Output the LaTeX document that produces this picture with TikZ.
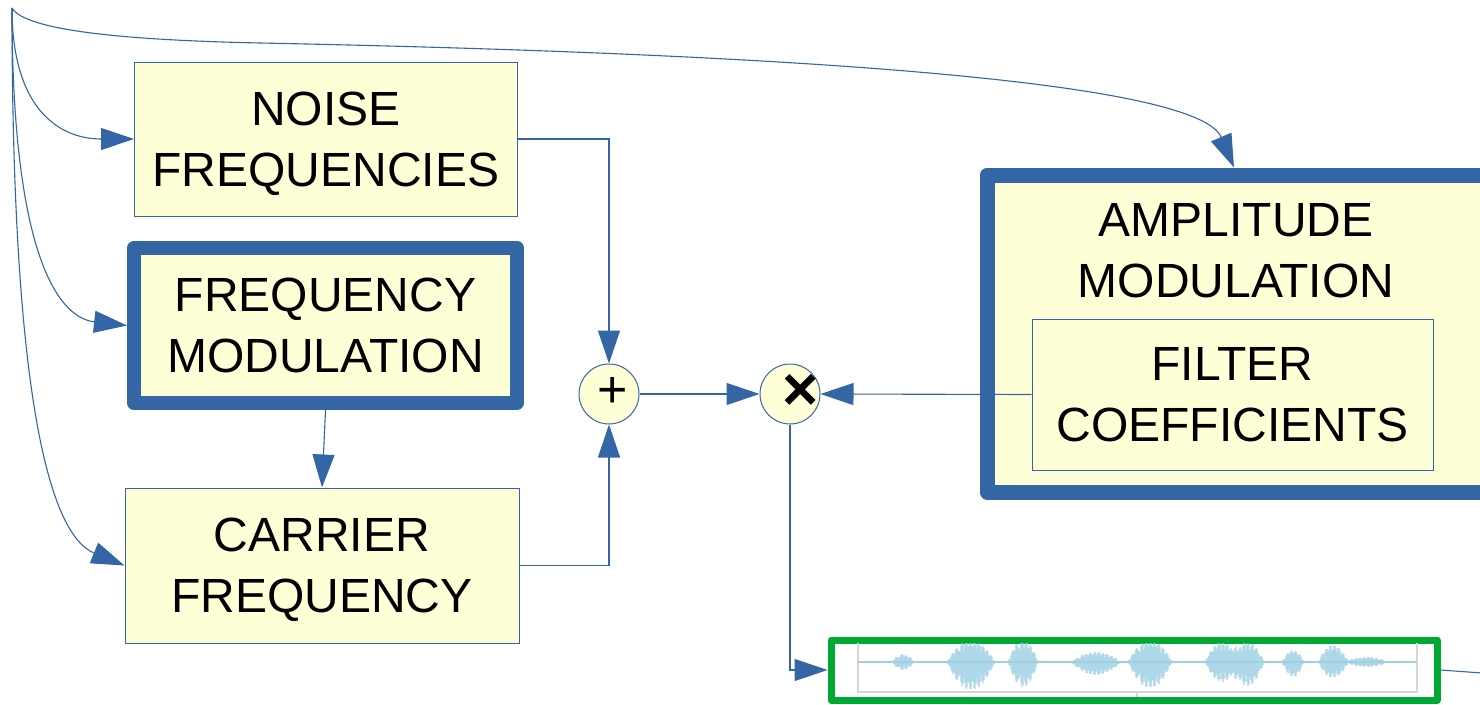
\documentclass[tikz,border=0pt]{standalone}
\usepackage{fontspec}
\setmainfont{Liberation Sans}
\usetikzlibrary{arrows.meta}
\definecolor{lineblue}{HTML}{3465A4}
\definecolor{boxfill}{HTML}{FFFFD7}
\definecolor{framegreen}{HTML}{00A933}
\definecolor{wavecol}{HTML}{9ECFE2}
\newcommand{\bigfont}{\fontsize{48}{61}\selectfont}
\begin{document}
\begin{tikzpicture}[x=1pt,y=-1pt,
  block/.style={draw=lineblue, fill=boxfill, line width=1pt, font=\bigfont,
    align=center, inner sep=0pt, text depth=0pt},
  heavy/.style={block, line width=14pt, line join=round},
  sumnode/.style={circle, draw=lineblue, fill=boxfill, line width=1pt,
    minimum size=60pt, inner sep=0pt},
  wire/.style={draw=lineblue, line width=1.1pt},
  flow/.style={wire, -{Triangle[length=33pt,width=22pt]}},
  declare function={bump(\p,\c,\w)=max(0,1-((\p-\c)/\w)^2);}]
\useasboundingbox (0,0) rectangle (1480,704);
\clip (0,0) rectangle (1480,704);

% blocks
\node[block, minimum width=383pt, minimum height=154pt] (noise) at (326,139)
  {NOISE\\FREQUENCIES};
\node[heavy, minimum width=383pt, minimum height=155pt] (fm) at (325.5,325.5)
  {FREQUENCY\\MODULATION};
\node[block, minimum width=394pt, minimum height=155pt] (carrier) at (322,565.5)
  {CARRIER\\FREQUENCY};
\node[heavy, line width=15pt, minimum width=500pt, minimum height=317pt] (amp)
  at (1237,333.5) {};
\node[font=\bigfont, align=center, inner sep=0pt, text depth=0pt] (amptext)
  at (1236,250) {AMPLITUDE\\MODULATION};
\node[block, minimum width=401pt, minimum height=151pt] (filter) at (1232.5,394.5)
  {FILTER\\COEFFICIENTS};

% combiners
\node[sumnode] (plus) at (609,394) {};
\node[font=\fontsize{52}{52}\selectfont, inner sep=0pt] (plussign) at (613,392) {+};
\node[sumnode] (times) at (790,394) {};
\node[font=\fontsize{62}{62}\selectfont\bfseries, inner sep=0pt] (timessign) at (801,392) {×};

% output waveform
\node[draw=framegreen, line width=7pt, line join=round, minimum width=606pt,
  minimum height=60pt, inner sep=0pt] (wavebox) at (1134,670) {};
\begin{scope}
  \clip (834.5,643.5) rectangle (1433.5,696.5);
  \draw[black!16, line width=1.5pt] (858,640) -- (858,692) -- (1417,692) -- (1417,640);
  \draw[black!16, line width=1.5pt] (1137,692) -- (1137,700);
  \draw[wavecol, line width=1.5pt] (858,662) -- (1417,662);
  \foreach \t in {859,...,1416}{
    \pgfmathsetmacro\j{0.55+0.45*abs(sin(mod(\t,60)*137))}
    \pgfmathsetmacro\up{\j*(8*bump(\t,903,11)+22*bump(\t,971,24)+22*bump(\t,1023,15)
      +10*bump(\t,1096,25)+22*bump(\t,1150,22)+20*bump(\t,1222,17)+20*bump(\t,1248,16)
      +12*bump(\t,1293,11)+17*bump(\t,1333,15)+5*bump(\t,1367,22))}
    \pgfmathsetmacro\dn{\j*(8*bump(\t,903,11)+28*bump(\t,971,24)+25*bump(\t,1023,15)
      +13*bump(\t,1096,25)+26*bump(\t,1150,22)+20*bump(\t,1222,17)+24*bump(\t,1248,16)
      +15*bump(\t,1293,11)+16*bump(\t,1333,15)+5*bump(\t,1367,22))}
    \draw[wavecol, opacity=0.6, line width=1.1pt] (\t,662-\up) -- (\t,662+\dn);
  }
\end{scope}

% connectors
\coordinate (src) at (12,8);
\coordinate (ampin) at (1234,167.5);
\coordinate (out) at (1482,673);
\draw[flow] (src) .. controls (25,30) and (120,40) .. (260,43)
  .. controls (700,52) and (1195,75) .. (ampin);
\draw[flow] (src) .. controls (12,110) and (60,139) .. (noise.west);
\draw[flow] (src) .. controls (12,260) and (60,318) .. (fm.west);
\draw[flow] (src) .. controls (12,400) and (50,535) .. (carrier.west);
\draw[flow] (noise.east) -| (plus.north);
\draw[flow] (carrier.east) -| (plus.south);
\draw[flow] (fm.south) -- (carrier.north);
\draw[flow] (plus.east) -- (times.west);
\draw[flow] (filter.west) -- (times.east);
\draw[flow] (times.south) |- (wavebox.west);
\draw[wire] (wavebox.east) -- (out);
\end{tikzpicture}
\end{document}
